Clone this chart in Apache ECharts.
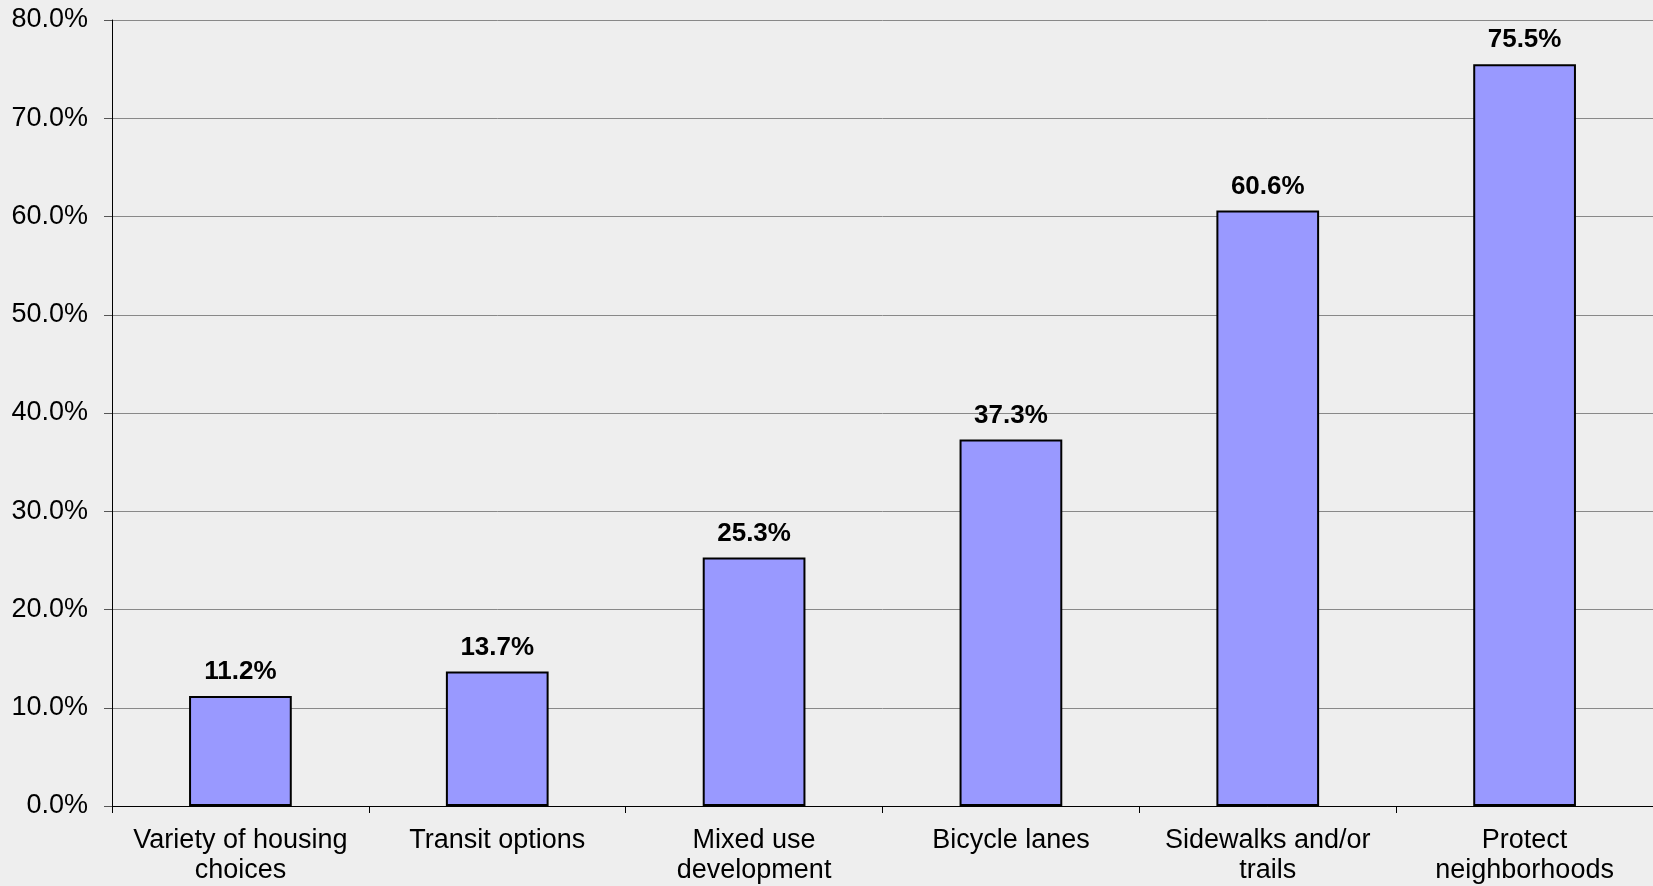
<!DOCTYPE html>
<html>
<head>
<meta charset="utf-8">
<style>
  html, body { margin: 0; padding: 0; background: #eeeeee; }
  #chart { width: 1653px; height: 886px; }
</style>
<script src="https://cdn.jsdelivr.net/npm/echarts@6/dist/echarts.min.js"></script>
</head>
<body>
<div id="chart"></div>
<script>
// Share of respondents selecting each priority (%)
const categories = [
  'Variety of housing\nchoices',
  'Transit options',
  'Mixed use\ndevelopment',
  'Bicycle lanes',
  'Sidewalks and/or\ntrails',
  'Protect\nneighborhoods'
];
const values = [11.2, 13.7, 25.3, 37.3, 60.6, 75.5];

const FONT = '"Liberation Sans", Arial, sans-serif';

const chart = echarts.init(document.getElementById('chart'));
chart.setOption({
  backgroundColor: '#eeeeee',
  animation: false,
  grid: { left: 112, right: 0, top: 20, bottom: 77, containLabel: false },
  xAxis: {
    type: 'category',
    data: categories,
    axisLine: { lineStyle: { color: '#000', width: 1 } },
    axisTick: { show: true, length: 7, lineStyle: { color: '#000' } },
    axisLabel: {
      interval: 0,
      margin: 20,
      fontFamily: FONT,
      fontSize: 27,
      lineHeight: 30,
      color: '#000'
    }
  },
  yAxis: {
    type: 'value',
    min: 0,
    max: 80,
    interval: 10,
    axisLine: { show: true, lineStyle: { color: '#000', width: 1 } },
    axisTick: { show: true, length: 8, lineStyle: { color: '#555' } },
    axisLabel: {
      margin: 24,
      fontFamily: FONT,
      fontSize: 27,
      color: '#000',
      formatter: v => v.toFixed(1) + '%'
    },
    splitLine: { show: true, lineStyle: { color: '#888', width: 1 } }
  },
  series: [{
    type: 'bar',
    data: values,
    barWidth: '40%',
    itemStyle: { color: '#9999ff', borderColor: '#000', borderWidth: 2 },
    label: {
      show: true,
      position: 'top',
      distance: 11,
      fontFamily: FONT,
      fontSize: 26,
      fontWeight: 'bold',
      color: '#000',
      formatter: p => p.value.toFixed(1) + '%'
    }
  }]
});
</script>
</body>
</html>
